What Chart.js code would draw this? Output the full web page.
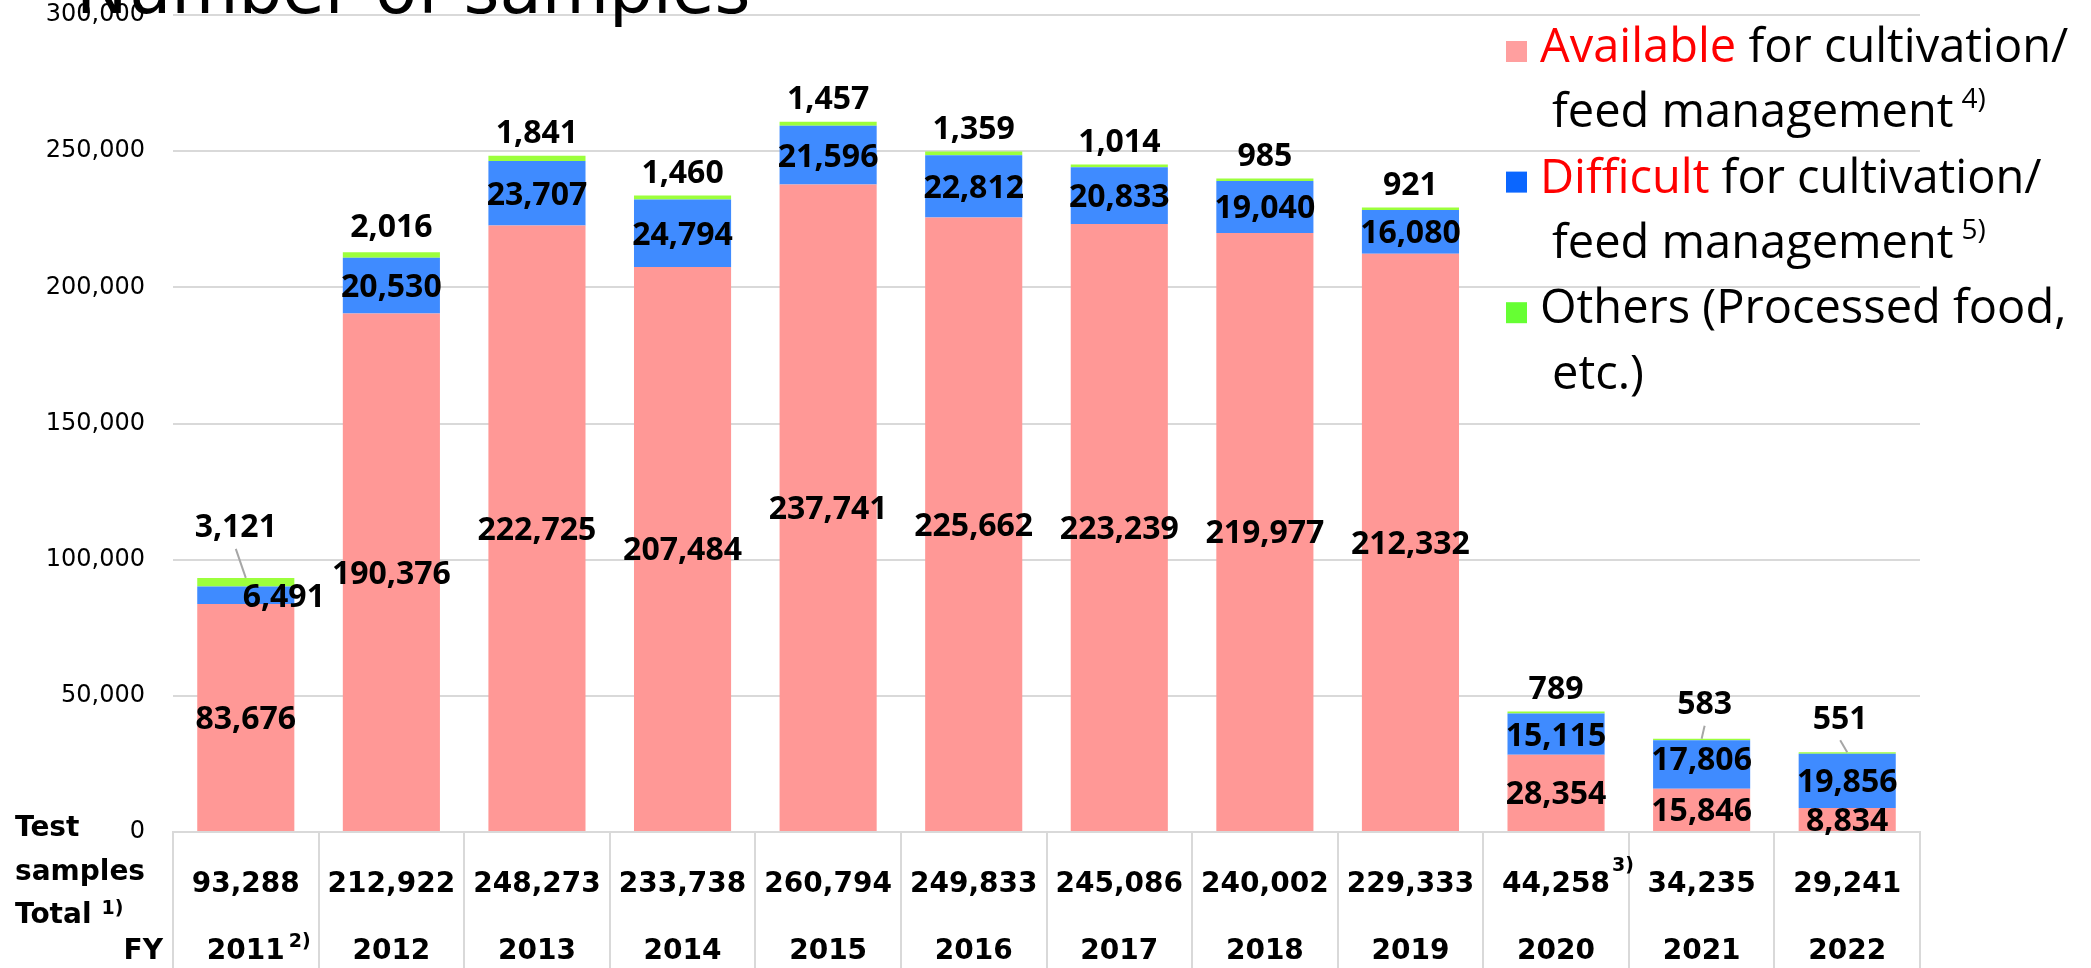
<!DOCTYPE html>
<html>
<head>
<meta charset="utf-8">
<title>Number of samples</title>
<script src="https://cdn.jsdelivr.net/npm/chart.js@4.4.1/dist/chart.umd.min.js"></script>
<style>
  html, body { margin: 0; padding: 0; background: #fff; overflow: hidden; }
  canvas { display: block; }
</style>
</head>
<body>
<canvas id="chart" width="2091" height="968"></canvas>
<script>
// Fiscal years and their footnote marks
const fiscalYears = ['2011', '2012', '2013', '2014', '2015', '2016', '2017', '2018', '2019', '2020', '2021', '2022'];
const yearNotes   = ['2)', '', '', '', '', '', '', '', '', '', '', ''];

// Number of samples by category
const available = [83676, 190376, 222725, 207484, 237741, 225662, 223239, 219977, 212332, 28354, 15846, 8834];
const difficult = [6491, 20530, 23707, 24794, 21596, 22812, 20833, 19040, 16080, 15115, 17806, 19856];
const others    = [3121, 2016, 1841, 1460, 1457, 1359, 1014, 985, 921, 789, 583, 551];

// Test samples total per year, with footnote marks
const testTotals = [93288, 212922, 248273, 233738, 260794, 249833, 245086, 240002, 229333, 44258, 34235, 29241];
const totalNotes = ['', '', '', '', '', '', '', '', '', '3)', '', ''];

// Value axis
const yMin = 0;
const yMax = 300000;
const yStep = 50000;

const fmt = v => Number(v).toLocaleString('en-US');

// Segment value labels: placement tweaks per dataset / category
const labelPlacement = {
  0: {},
  1: { 0: { dx: 38, dy: 0 }, 10: { dx: 0, dy: -6 } },
  2: {
    0:  { dx: -10, dy: -52, leader: true },
    1:  { dx: 0, dy: -27 },
    10: { dx: 3, dy: -36, leader: true },
    11: { dx: -7, dy: -35, leader: true }
  }
};

const segmentLabels = {
  id: 'segmentLabels',
  afterDatasetsDraw(chart) {
    const ctx = chart.ctx;
    ctx.save();
    ctx.font = 'bold 32px "Open Sans"';
    ctx.textAlign = 'center';
    ctx.textBaseline = 'alphabetic';
    const half = 0.357 * 32;
    chart.data.datasets.forEach((ds, di) => {
      const meta = chart.getDatasetMeta(di);
      meta.data.forEach((bar, i) => {
        const p = (labelPlacement[di] || {})[i] || {};
        const dx = p.dx || 0;
        let cx, cy;
        if (di === 2) {
          cx = bar.x + dx;
          cy = bar.y + (p.dy !== undefined ? p.dy : -24);
          if (p.leader) {
            ctx.strokeStyle = '#a6a6a6';
            ctx.lineWidth = 2;
            ctx.beginPath();
            ctx.moveTo(cx, cy + 23);
            ctx.lineTo(bar.x, bar.y);
            ctx.stroke();
          }
        } else {
          cx = bar.x + dx;
          cy = (bar.y + bar.base) / 2 + (p.dy || 0);
        }
        ctx.fillStyle = '#000';
        ctx.fillText(fmt(ds.data[i]), cx, cy + half);
      });
    });
    ctx.restore();
  }
};

// Table under the axis: totals row and fiscal year row
const tableRows = {
  id: 'tableRows',
  afterDraw(chart) {
    const ctx = chart.ctx;
    const xs = chart.scales.x;
    const base = chart.chartArea.bottom;
    ctx.save();
    ctx.fillStyle = '#000';
    ctx.textBaseline = 'alphabetic';

    // Row headers
    ctx.font = 'bold 28px "DejaVu Sans"';
    ctx.textAlign = 'left';
    ctx.fillText('Test', 15, base + 4);
    ctx.fillText('samples', 15, base + 48);
    ctx.fillText('Total', 15, base + 91);
    const totalW = ctx.measureText('Total').width;
    ctx.font = 'bold 19px "DejaVu Sans"';
    ctx.fillText('1)', 15 + totalW + 10, base + 82);
    ctx.font = 'bold 28px "DejaVu Sans"';
    ctx.textAlign = 'right';
    ctx.fillText('FY', 163, base + 127);

    fiscalYears.forEach((fy, i) => {
      const x = xs.getPixelForValue(i);
      ctx.font = 'bold 28px "DejaVu Sans"';
      ctx.textAlign = 'center';
      const t = fmt(testTotals[i]);
      ctx.fillText(t, x, base + 60);
      const tw = ctx.measureText(t).width;
      ctx.fillText(fy, x, base + 127);
      const yw = ctx.measureText(fy).width;
      ctx.font = 'bold 19px "DejaVu Sans"';
      ctx.textAlign = 'left';
      if (totalNotes[i]) ctx.fillText(totalNotes[i], x + tw / 2 + 2, base + 39);
      if (yearNotes[i]) ctx.fillText(yearNotes[i], x + yw / 2 + 4, base + 115);
    });
    ctx.restore();
  }
};

// Legend entries drawn at the right of the plot
const legendEntries = [
  { color: '#ff9f9f', lines: [[['Available', '#ff0000'], [' for cultivation/', '#000']], [['feed management', '#000']]], note: '4)' },
  { color: '#0a66ff', lines: [[['Difficult', '#ff0000'], [' for cultivation/', '#000']], [['feed management', '#000']]], note: '5)' },
  { color: '#66ff33', lines: [[['Others (Processed food,', '#000']], [['etc.)', '#000']]], note: '' }
];

const sideLegend = {
  id: 'sideLegend',
  afterDraw(chart) {
    const ctx = chart.ctx;
    ctx.save();
    ctx.textBaseline = 'alphabetic';
    ctx.textAlign = 'left';
    const lineGap = 65.3;
    let baseline = 62;
    legendEntries.forEach(entry => {
      ctx.fillStyle = entry.color;
      ctx.fillRect(1506, baseline - 21, 21, 21);
      entry.lines.forEach((parts, li) => {
        let x = li === 0 ? 1540 : 1552;
        ctx.font = '47px "Open Sans"';
        parts.forEach(([txt, col]) => {
          ctx.fillStyle = col;
          ctx.fillText(txt, x, baseline);
          x += ctx.measureText(txt).width;
        });
        if (li === 1 && entry.note) {
          ctx.font = '28px "Open Sans"';
          ctx.fillStyle = '#000';
          ctx.fillText(entry.note, x + 8, baseline - 19);
        }
        baseline += lineGap;
      });
    });
    ctx.restore();
  }
};

const heading = {
  id: 'heading',
  afterDraw(chart) {
    const ctx = chart.ctx;
    ctx.save();
    ctx.font = '69px "DejaVu Sans"';
    ctx.fillStyle = '#000';
    ctx.textAlign = 'left';
    ctx.textBaseline = 'alphabetic';
    ctx.fillText('Number of samples', 76, 13);
    ctx.restore();
  }
};

new Chart(document.getElementById('chart'), {
  type: 'bar',
  data: {
    labels: fiscalYears,
    datasets: [
      { label: 'Available for cultivation/feed management', data: available, backgroundColor: '#ff9896' },
      { label: 'Difficult for cultivation/feed management', data: difficult, backgroundColor: '#3f8bff' },
      { label: 'Others (Processed food, etc.)', data: others, backgroundColor: '#9cff3c' }
    ]
  },
  options: {
    responsive: false,
    animation: false,
    devicePixelRatio: 1,
    layout: { padding: { top: 15, right: 171, left: 0, bottom: 0 } },
    datasets: { bar: { categoryPercentage: 1, barPercentage: 0.667, borderWidth: 0 } },
    plugins: {
      legend: { display: false },
      tooltip: { enabled: false },
      title: { display: false }
    },
    scales: {
      x: {
        stacked: true,
        grid: { display: true, drawOnChartArea: false, drawTicks: true, tickLength: 136, color: '#d9d9d9', lineWidth: 2, offset: true },
        border: { display: true, color: '#d9d9d9', width: 2 },
        ticks: { display: false },
        afterFit(scale) { scale.height = 136; scale.paddingLeft = 0; scale.paddingRight = 0; }
      },
      y: {
        stacked: true,
        min: yMin,
        max: yMax,
        ticks: {
          stepSize: yStep,
          color: '#000',
          padding: 28,
          font: { family: 'DejaVu Sans', size: 24 },
          callback: v => fmt(v)
        },
        grid: { color: '#d9d9d9', lineWidth: 2, drawTicks: false },
        border: { display: false },
        afterFit(scale) { scale.width = 173; scale.paddingTop = 0; scale.paddingBottom = 0; }
      }
    }
  },
  plugins: [segmentLabels, tableRows, sideLegend, heading]
});
</script>
</body>
</html>
